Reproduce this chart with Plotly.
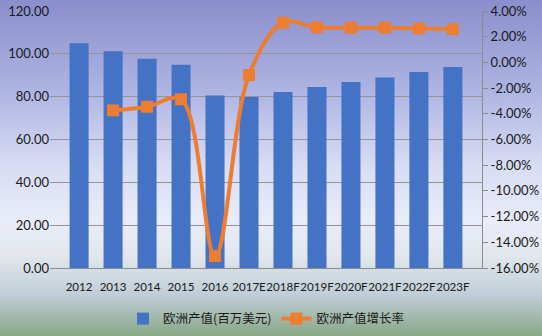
import base64
import plotly.graph_objects as go

categories = ["2012", "2013", "2014", "2015", "2016", "2017E", "2018F",
              "2019F", "2020F", "2021F", "2022F", "2023F"]
output_value = [105.0, 101.2, 97.7, 94.9, 80.5, 79.8, 82.2, 84.5, 86.8, 89.0, 91.5, 93.9]
growth_rate = [None, -3.73, -3.45, -2.87, -15.07, -0.98, 3.09, 2.73, 2.70, 2.70, 2.65, 2.58]

bar_name = "欧洲产值(百万美元)"
line_name = "欧洲产值增长率"

W, H = 542, 336
ML, MR, MT, MB = 50, 60, 11, 68
PW, PH = W - ML - MR, H - MT - MB

svg = f'''<svg xmlns="http://www.w3.org/2000/svg" width="{W}" height="{H}" preserveAspectRatio="none">
<defs><linearGradient id="g" x1="0" y1="0" x2="0" y2="1">
<stop offset="0" stop-color="#8a8ecc"/>
<stop offset="0.25" stop-color="#abb1e0"/>
<stop offset="0.5" stop-color="#d9ddf4"/>
<stop offset="0.66" stop-color="#e9ecf9"/>
<stop offset="0.76" stop-color="#e2e7ec"/>
<stop offset="0.88" stop-color="#bfcdd6"/>
<stop offset="1" stop-color="#88a786"/>
</linearGradient></defs>
<rect width="{W}" height="{H}" fill="url(#g)"/></svg>'''
src = "data:image/svg+xml;base64," + base64.b64encode(svg.encode()).decode()

num_font = "Lato, Open Sans, sans-serif"
cjk_font = "Noto Sans CJK SC, sans-serif"

fig = go.Figure()
fig.add_trace(go.Bar(x=categories, y=output_value, name=bar_name,
                     marker=dict(color="#4472C4", line=dict(width=0)), yaxis="y"))
fig.add_trace(go.Scatter(x=categories, y=growth_rate, name=line_name, yaxis="y2",
                         mode="lines+markers", connectgaps=False,
                         line=dict(color="#ED7D31", width=4, shape="spline", smoothing=1.0),
                         marker=dict(symbol="square", size=12, color="#ED7D31")))

tf = dict(family=num_font, size=13, color="#1a1a1a")
fig.update_layout(
    width=W, height=H,
    margin=dict(l=ML, r=MR, t=MT, b=MB, autoexpand=False),
    paper_bgcolor="rgba(0,0,0,0)", plot_bgcolor="rgba(0,0,0,0)",
    font=dict(family=num_font, size=12, color="#1a1a1a"),
    bargap=0.44,
    images=[dict(source=src, xref="paper", yref="paper",
                 x=-ML / PW, y=1 + MT / PH, sizex=W / PW, sizey=H / PH,
                 xanchor="left", yanchor="top", sizing="stretch", layer="below")],
    xaxis=dict(showgrid=False, showline=True, linecolor="#8c8c8c", linewidth=1,
               ticks="outside", ticklen=8, tickcolor="rgba(0,0,0,0)", tickangle=0,
               tickfont=dict(family=num_font, size=11.6, color="#1a1a1a"), automargin=False),
    yaxis=dict(range=[0, 120], dtick=20, tickformat=".2f", showgrid=True,
               gridcolor="#959595", gridwidth=1, zeroline=False, showline=False,
               ticks="", tickfont=tf, automargin=False),
    yaxis2=dict(range=[-16, 4], overlaying="y", side="right",
                tickvals=list(range(-16, 5, 2)),
                ticktext=[f"{v:.2f}%" for v in range(-16, 5, 2)],
                showgrid=False, zeroline=False, showline=True, linecolor="#8c8c8c",
                ticks="outside", ticklen=5, tickcolor="#8c8c8c",
                tickfont=tf, automargin=False),
    legend=dict(orientation="h", x=0.5, xanchor="center", y=-0.14, yanchor="top",
                bgcolor="rgba(0,0,0,0)", font=dict(family=cjk_font, size=12.5, color="#1a1a1a"),
                traceorder="normal"),
)

fig.write_html("out.html")
